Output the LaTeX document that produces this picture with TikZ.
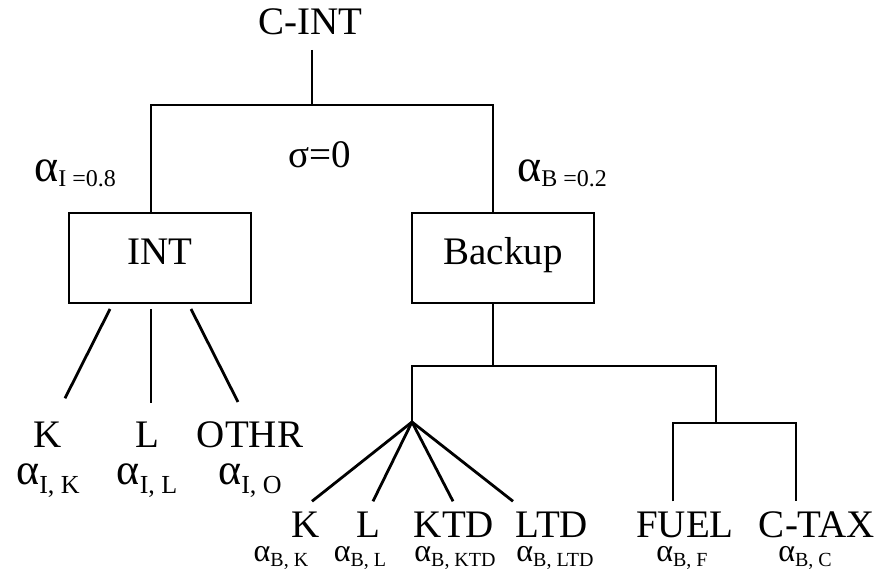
\documentclass[tikz,border=0pt]{standalone}
\usepackage{fontspec}
\setmainfont{Liberation Serif}
\usetikzlibrary{positioning}
\tikzstyle{nest} = [rectangle, minimum width=182pt, minimum height=90pt, inner sep=0pt, text height=28pt, text depth=14pt, draw=black, line width=2pt, font=\fontsize{39}{39}\selectfont]
\tikzstyle{good} = [inner sep=0pt, anchor=base, font=\fontsize{39}{39}\selectfont]
\tikzstyle{share} = [inner sep=0pt, anchor=base]
\tikzstyle{branch} = [line width=2.8pt]
\newcommand{\topshare}[1]{{\fontsize{46}{46}\selectfont α}\raisebox{-5pt}{\fontsize{24}{24}\selectfont #1}}
\newcommand{\midshare}[1]{{\fontsize{44}{44}\selectfont α}\raisebox{-9pt}{\fontsize{26}{26}\selectfont #1}}
\newcommand{\lowshare}[1]{{\fontsize{32}{32}\selectfont α}\raisebox{-5pt}{\fontsize{20}{20}\selectfont #1}}

\begin{document}
\begin{tikzpicture}[x=1pt, y=-1pt]
\useasboundingbox (0,0) rectangle (881,569);
% Nests
\node (cint) [good] at (310,35) {C-INT};
\node (int) [nest] at (160,258) {INT};
\node (backup) [nest] at (503,258) {Backup};
\node (sigma) [good] at (320,168) {σ=0};
\node (aint) [share, anchor=base west] at (34,182) {\topshare{I =0.8}};
\node (aback) [share, anchor=base west] at (517,182) {\topshare{B =0.2}};

% Inputs of INT
\node (ik) [good] at (48,447) {K};
\node (il) [good] at (147,447) {L};
\node (io) [good] at (250,447) {OTHR};
\node (aik) [share] at (48,484) {\midshare{I, K}};
\node (ail) [share] at (147,484) {\midshare{I, L}};
\node (aio) [share] at (250,484) {\midshare{I, O}};

% Inputs of Backup
\node (bk) [good] at (306,537) {K};
\node (bl) [good] at (368,537) {L};
\node (bktd) [good] at (454,537) {KTD};
\node (bltd) [good] at (552,537) {LTD};
\node (bfuel) [good] at (685,537) {FUEL};
\node (bctax) [good] at (817,537) {C-TAX};
\node (abk) [share] at (281,561) {\lowshare{B, K}};
\node (abl) [share] at (360,561) {\lowshare{B, L}};
\node (abktd) [share] at (455,561) {\lowshare{B, KTD}};
\node (abltd) [share] at (555,561) {\lowshare{B, LTD}};
\node (abf) [share] at (682,561) {\lowshare{B, F}};
\node (abc) [share] at (805,561) {\lowshare{B, C}};

% Junctions
\coordinate (top) at (312,105);
\coordinate (mid) at (493,366);
\coordinate (fork) at (412,422);
\coordinate (energy) at (716,423);

% Branches
\draw [branch] ([xshift=2pt,yshift=-15pt]cint.base) -- (top);
\draw [branch] ([xshift=-9pt]int.north) |- (top) -| ([xshift=-10pt]backup.north);
\draw [branch] ([xshift=-50pt,yshift=-5pt]int.south) -- ([xshift=17pt,yshift=23pt]ik.north);
\draw [branch] ([xshift=-9pt,yshift=-5pt]int.south) -- ([xshift=4pt,yshift=18pt]il.north);
\draw [branch] ([xshift=31pt,yshift=-5pt]int.south) -- ([xshift=-12pt,yshift=19pt]io.north);
\draw [branch] ([xshift=-10pt]backup.south) -- (mid);
\draw [branch] (fork) |- (mid) -| (energy);
\draw [branch] (fork) -- ([xshift=6pt,yshift=10pt]bk.north);
\draw [branch] (fork) -- ([xshift=5pt,yshift=10pt]bl.north);
\draw [branch] (fork) -- ([xshift=-1pt,yshift=10pt]bktd.north);
\draw [branch] (fork) -- ([xshift=-39pt,yshift=10pt]bltd.north);
\draw [branch] ([xshift=-12pt,yshift=10pt]bfuel.north) |- (energy) -| ([xshift=-21pt,yshift=10pt]bctax.north);
\end{tikzpicture}
\end{document}
